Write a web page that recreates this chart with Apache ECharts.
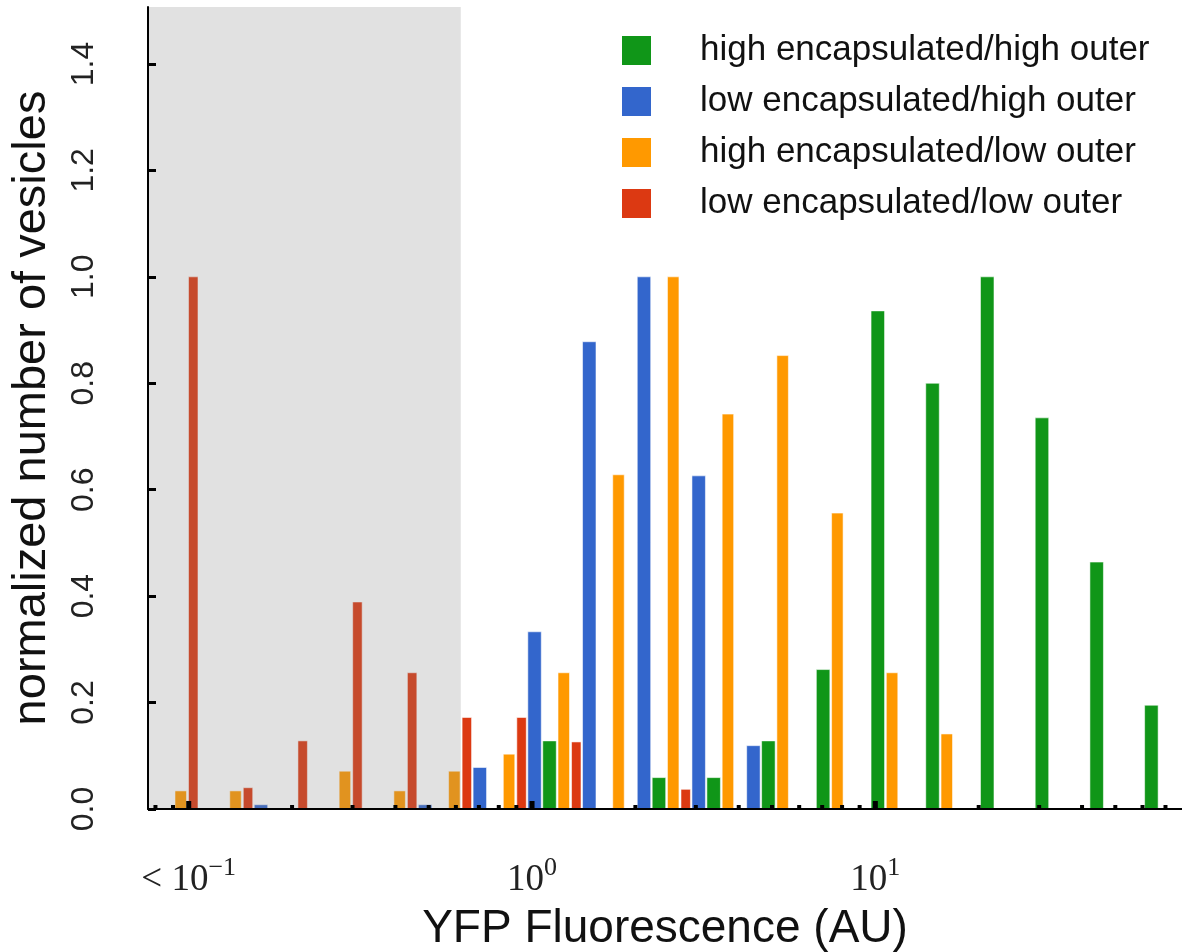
<!DOCTYPE html>
<html>
<head>
<meta charset="utf-8">
<script src="https://cdn.jsdelivr.net/npm/echarts@6/dist/echarts.min.js"></script>
<style>
html,body{margin:0;padding:0;background:#fff;}
#chart{width:1182px;height:952px;}
</style>
</head>
<body>
<div id="chart"></div>
<script>
// Log-spaced bin edges (YFP fluorescence, AU)
const binEdges = [0.0912, 0.1317, 0.1900, 0.2743, 0.3959, 0.5714, 0.8247, 1.1904, 1.7182, 2.4800, 3.5795, 5.1665, 7.4571, 10.763, 15.535, 22.423, 32.364, 46.713, 67.42];

const seriesNames = ['high encapsulated/high outer', 'low encapsulated/high outer', 'high encapsulated/low outer', 'low encapsulated/low outer'];

// normalized number of vesicles per bin
const highHigh = [0, 0, 0, 0, 0, 0, 0.128, 0, 0.059, 0.059, 0.128, 0.262, 0.936, 0.800, 1.000, 0.735, 0.464, 0.195];
const lowHigh  = [0, 0.008, 0, 0, 0.008, 0.078, 0.333, 0.878, 1.000, 0.626, 0.119, 0, 0, 0, 0, 0, 0, 0];
const highLow  = [0.034, 0.034, 0, 0.071, 0.034, 0.071, 0.103, 0.256, 0.628, 1.000, 0.742, 0.852, 0.556, 0.256, 0.141, 0, 0, 0];
const lowLow   = [1.000, 0.040, 0.128, 0.389, 0.256, 0.172, 0.172, 0.126, 0, 0.037, 0, 0, 0, 0, 0, 0, 0, 0];

const yTicks = [0, 0.2, 0.4, 0.6, 0.8, 1.0, 1.2, 1.4];
const xMajorTicks = [0.1, 1, 10];
const xMinorTicks = [0.08, 0.09, 0.2, 0.3, 0.4, 0.5, 0.6, 0.7, 0.8, 0.9, 2, 3, 4, 5, 6, 7, 8, 9, 20, 30, 40, 50, 60, 70];
const shadedRange = [0.0761, 0.62];

const X_MIN = 0.0761, X_MAX = 78.2, Y_MAX = 1.507;
const colors = ['#109618', '#3366cc', '#ff9900', '#dc3912'];
// slot of each series inside a bin (fraction of bin width)
const slots = [[0.721, 0.968], [0.448, 0.694], [0, 0.21], [0.247, 0.42]];

function binData(vals) {
  const out = [];
  vals.forEach((v, k) => { if (v > 0) out.push([binEdges[k], binEdges[k + 1], v]); });
  return out;
}

function barRenderer(f0, f1) {
  return function (params, api) {
    const a = api.coord([api.value(0), 0]);
    const b = api.coord([api.value(1), api.value(2)]);
    const w = b[0] - a[0];
    return {
      type: 'rect',
      shape: { x: a[0] + w * f0, y: b[1], width: w * (f1 - f0), height: a[1] - b[1] },
      style: { fill: api.visual('color'), stroke: 'rgba(255,255,255,0.55)', lineWidth: 1 }
    };
  };
}

const allVals = [highHigh, lowHigh, highLow, lowLow];
const barSeries = seriesNames.map((name, i) => ({
  name: name,
  type: 'custom',
  renderItem: barRenderer(slots[i][0], slots[i][1]),
  encode: { x: [0, 1], y: 2 },
  itemStyle: { color: colors[i] },
  data: binData(allVals[i]),
  z: 2
}));

const shadeSeries = {
  type: 'custom',
  silent: true,
  z: 3,
  renderItem: function (params, api) {
    const a = api.coord([api.value(0), Y_MAX]);
    const b = api.coord([api.value(1), 0]);
    return { type: 'rect', shape: { x: a[0], y: a[1], width: b[0] - a[0], height: b[1] - a[1] },
      style: { fill: 'rgba(128,128,128,0.24)' } };
  },
  data: [shadedRange]
};

function tickSeries(vals, w, h) {
  return {
    type: 'custom',
    silent: true,
    z: 12,
    renderItem: function (params, api) {
      const p = api.coord([api.value(0), 0]);
      return { type: 'rect', shape: { x: p[0] - w / 2, y: p[1] - h, width: w, height: h }, style: { fill: '#000' } };
    },
    data: vals.map(v => [v])
  };
}

function supLabel(v) {
  const e = Math.round(Math.log10(v));
  if (Math.abs(Math.log10(v) - e) > 1e-6) return '';
  if (e === -1) return '{b|< 10}{s|\u22121}';
  return '{b|10}{s|' + e + '}';
}

const chart = echarts.init(document.getElementById('chart'));
chart.setOption({
  backgroundColor: '#fff',
  animation: false,
  grid: { left: 148, right: 0, top: 7, bottom: 143, containLabel: false, outerBoundsMode: 'none' },
  legend: {
    orient: 'vertical',
    left: 617,
    top: 28,
    itemWidth: 29,
    itemHeight: 29,
    itemGap: 16,
    icon: 'rect',
    data: seriesNames,
    textStyle: { fontFamily: 'Liberation Sans', fontSize: 35, color: '#111', lineHeight: 29, padding: [0, 0, 0, 44] }
  },
  xAxis: {
    type: 'log',
    logBase: 10,
    min: X_MIN,
    max: X_MAX,
    z: 10,
    name: 'YFP Fluorescence (AU)',
    nameLocation: 'middle',
    nameGap: 97,
    nameTextStyle: { fontFamily: 'Liberation Sans', fontSize: 46, color: '#111' },
    axisLine: { lineStyle: { color: '#000', width: 2 } },
    axisTick: { show: false },
    splitLine: { show: false },
    axisLabel: {
      margin: 46,
      formatter: supLabel,
      rich: {
        b: { fontFamily: 'Liberation Serif', fontSize: 37, color: '#222', verticalAlign: 'bottom', lineHeight: 44 },
        s: { fontFamily: 'Liberation Serif', fontSize: 26, color: '#222', verticalAlign: 'top', lineHeight: 26 }
      }
    }
  },
  yAxis: {
    type: 'value',
    min: 0,
    max: Y_MAX,
    z: 10,
    name: 'normalized number of vesicles',
    nameLocation: 'middle',
    nameRotate: 90,
    nameGap: 92,
    nameTextStyle: { fontFamily: 'Liberation Sans', fontSize: 47, color: '#111' },
    axisLine: { show: true, lineStyle: { color: '#000', width: 2 } },
    axisTick: { show: true, inside: true, length: 8, lineStyle: { color: '#000', width: 3 }, customValues: yTicks },
    splitLine: { show: false },
    axisLabel: {
      rotate: 90,
      margin: 48,
      customValues: yTicks,
      fontFamily: 'Liberation Sans',
      fontSize: 32,
      color: '#222',
      formatter: v => v.toFixed(1)
    }
  },
  series: barSeries.concat([shadeSeries, tickSeries(xMinorTicks, 4, 4), tickSeries(xMajorTicks, 5, 8)])
});
</script>
</body>
</html>
